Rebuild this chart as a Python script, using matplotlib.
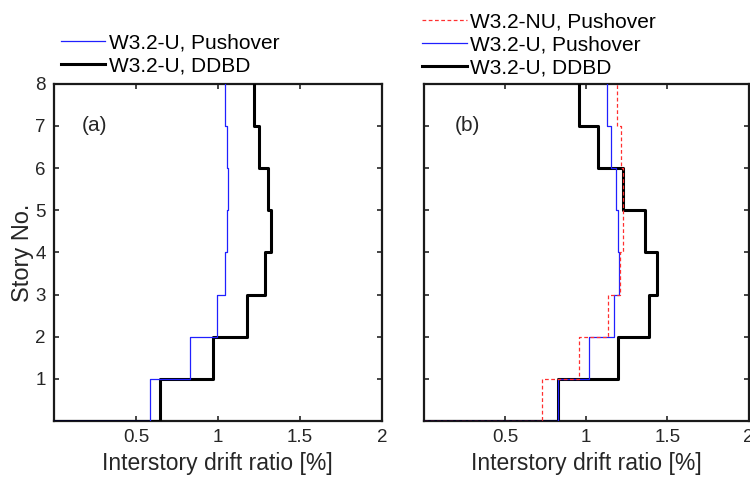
import matplotlib
matplotlib.use("Agg")
import matplotlib.pyplot as plt
import numpy as np

plt.rcParams['font.family'] = ['Liberation Sans', 'DejaVu Sans']

stories = [1, 2, 3, 4, 5, 6, 7, 8]
# panel (a)
a_push_u = [0.587, 0.827, 0.994, 1.045, 1.057, 1.059, 1.053, 1.043]
a_ddbd_u = [0.646, 0.970, 1.175, 1.289, 1.325, 1.303, 1.252, 1.220]
# panel (b)
b_push_nu = [0.726, 0.959, 1.134, 1.209, 1.228, 1.226, 1.213, 1.193]
b_push_u = [0.827, 1.020, 1.169, 1.203, 1.199, 1.187, 1.156, 1.126]
b_ddbd_u = [0.827, 1.195, 1.386, 1.435, 1.364, 1.228, 1.073, 0.957]

xticks = [0.5, 1, 1.5, 2]
xticklabels = ['0.5', '1', '1.5', '2']
yticks = [1, 2, 3, 4, 5, 6, 7, 8]

TXT = '#262626'


def stair(vals):
    xs = [0.0]
    ys = [0.0]
    for i, v in enumerate(vals):
        xs += [v, v]
        ys += [i, i + 1]
    return xs, ys


fig = plt.figure(figsize=(7.5, 4.79), dpi=100)
ax1 = fig.add_axes([0.072, 0.121, 0.437, 0.704])
ax2 = fig.add_axes([0.565, 0.121, 0.433, 0.704])


def style(ax, ylab):
    ax.set_xlim(0, 2)
    ax.set_ylim(0, 8)
    ax.set_xticks(xticks)
    ax.set_xticklabels(xticklabels)
    ax.set_yticks(yticks)
    ax.tick_params(direction='in', top=True, right=True, labelsize=13.5,
                   width=1.2, length=3.5, colors=TXT, labelcolor=TXT, pad=6)
    for s in ax.spines.values():
        s.set_linewidth(1.6)
        s.set_color('#1a1a1a')
    ax.set_xlabel('Interstory drift ratio [%]', fontsize=16.5, color=TXT, labelpad=4)
    if ylab:
        ax.set_ylabel('Story No.', fontsize=17, color=TXT, labelpad=1)
    else:
        ax.set_yticklabels([])


legkw = dict(frameon=False, fontsize=15, handlelength=2.15, handletextpad=0.15,
             labelspacing=0.2, borderpad=0.1, borderaxespad=0.0, loc='lower left')

x, y = stair(a_push_u)
ax1.plot(x, y, color='#2020ff', lw=0.9, label='W3.2-U, Pushover', zorder=3)
x, y = stair(a_ddbd_u)
ax1.plot(x, y, color='black', lw=2.2, label='W3.2-U, DDBD', zorder=2.8)
style(ax1, True)
ax1.text(0.17, 7.0, '(a)', fontsize=15, va='center', color=TXT)
ax1.legend(bbox_to_anchor=(0.014, 1.019), **legkw)

x, y = stair(b_push_nu)
ax2.plot(x, y, color='#ff3030', lw=0.9, ls=(0, (3, 2)), label='W3.2-NU, Pushover', zorder=3.1)
x, y = stair(b_push_u)
ax2.plot(x, y, color='#2020ff', lw=0.9, label='W3.2-U, Pushover', zorder=3)
x, y = stair(b_ddbd_u)
ax2.plot(x, y, color='black', lw=2.2, label='W3.2-U, DDBD', zorder=2.8)
style(ax2, False)
ax2.text(0.19, 7.0, '(b)', fontsize=15, va='center', color=TXT)
ax2.legend(bbox_to_anchor=(-0.012, 1.012), **legkw)

fig.savefig('out.png', dpi=100)
